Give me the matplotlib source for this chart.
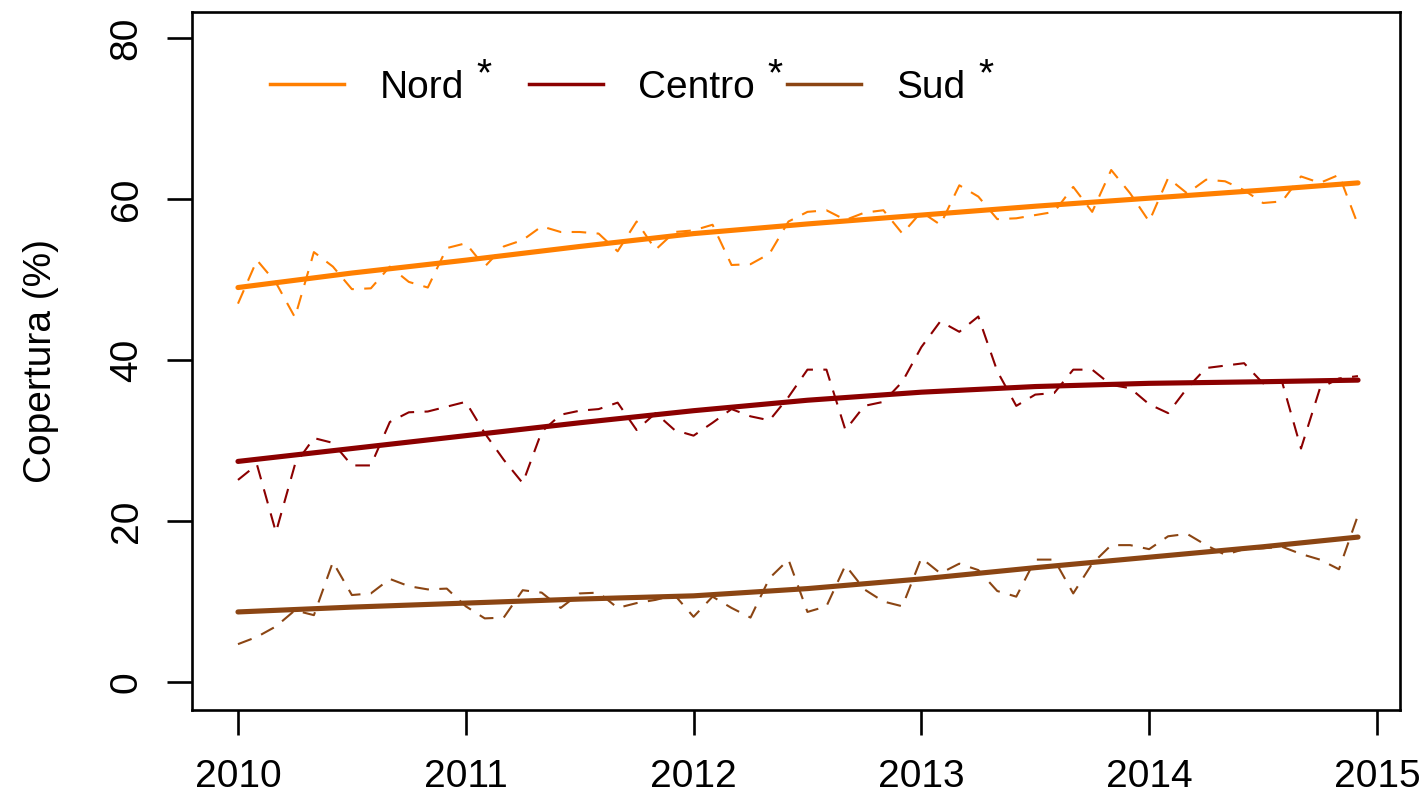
import numpy as np
import matplotlib
matplotlib.use('Agg')
import matplotlib.pyplot as plt
from matplotlib.lines import Line2D
from matplotlib.legend import Legend

plt.rcParams['font.family'] = ['Liberation Sans', 'DejaVu Sans']

# monthly values (Jan 2010 .. Dec 2014)
months = 2010 + np.arange(60) / 12

nord = [47.0, 52.4, 49.6, 45.3, 53.4, 51.6, 48.8, 48.9, 51.6, 49.7,
        49.0, 53.9, 54.5, 51.6, 54.1, 54.9, 56.6, 55.9, 55.9, 55.7,
        53.5, 57.2, 53.7, 55.9, 56.1, 56.8, 51.8, 51.9, 53.2, 57.2,
        58.4, 58.6, 57.4, 58.3, 58.6, 55.7, 58.4, 56.8, 61.7, 60.3,
        57.5, 57.6, 58.0, 58.4, 61.5, 58.4, 63.6, 60.7, 57.2, 62.6,
        60.7, 62.4, 62.2, 61.1, 59.5, 59.7, 62.8, 62.0, 63.0, 56.8]

centro = [25.1, 27.0, 18.6, 27.0, 30.3, 29.7, 26.9, 26.9, 32.3, 33.5,
          33.6, 34.2, 34.8, 30.9, 27.6, 24.7, 31.1, 33.2, 33.7, 33.9,
          34.7, 31.3, 33.4, 31.3, 30.6, 32.2, 33.9, 33.0, 32.5, 35.4,
          38.8, 38.8, 31.3, 34.3, 34.8, 37.3, 41.6, 44.8, 43.5, 45.4,
          38.6, 34.3, 35.7, 35.9, 38.8, 38.8, 36.9, 36.5, 34.5, 33.4,
          36.5, 39.0, 39.3, 39.6, 37.1, 37.3, 29.0, 36.5, 37.7, 38.0]

sud = [4.7, 5.6, 6.9, 8.9, 8.3, 14.9, 10.8, 11.0, 12.8, 11.9,
       11.5, 11.6, 9.4, 7.9, 8.0, 11.4, 11.1, 9.2, 11.0, 11.1,
       9.2, 9.8, 10.2, 10.8, 8.1, 10.6, 9.2, 8.0, 12.9, 15.2,
       8.7, 9.4, 14.5, 11.5, 10.0, 9.4, 15.4, 13.5, 14.7, 13.9,
       11.3, 10.6, 15.2, 15.2, 11.0, 14.7, 17.0, 17.0, 16.5, 18.1,
       18.4, 17.0, 15.8, 16.5, 16.6, 16.8, 15.9, 15.2, 14.0, 20.7]

# smooth trend read at half-year steps
trend_x = [2010, 2010.5, 2011, 2011.5, 2012, 2012.5, 2013, 2013.5, 2014, 2014.5, 2014.917]
nord_trend = [49.0, 50.8, 52.4, 54.1, 55.7, 56.9, 58.0, 59.1, 60.1, 61.1, 62.0]
centro_trend = [27.4, 29.0, 30.6, 32.2, 33.7, 35.0, 36.0, 36.7, 37.1, 37.3, 37.5]
sud_trend = [8.7, 9.3, 9.8, 10.3, 10.7, 11.6, 12.8, 14.2, 15.5, 16.8, 18.0]

names = ['Nord', 'Centro', 'Sud']
colors = ['#FF7F00', '#8B0000', '#8B4513']
series = [nord, centro, sud]
trends = [nord_trend, centro_trend, sud_trend]

fig = plt.figure(figsize=(14.23, 7.99), dpi=100)
ax = fig.add_axes([0.1349, 0.1114, 0.8489, 0.8736])

for vals, tr, c in zip(series, trends, colors):
    ax.plot(months, vals, color=c, lw=1.5, linestyle=(0, (7, 5)))
    ax.plot(trend_x, tr, color=c, lw=3.7, solid_capstyle='round')

ax.set_xlim(2009.798, 2015.101)
ax.set_ylim(-3.48, 83.23)
ax.set_xticks([2010, 2011, 2012, 2013, 2014, 2015])
ax.set_yticks([0, 20, 40, 60, 80])
ax.tick_params(direction='out', length=18, width=1.9, labelsize=28, pad=17)
ax.tick_params(axis='y', pad=16)
plt.setp(ax.get_yticklabels(), rotation=90, va='center', ha='right')
for s in ax.spines.values():
    s.set_linewidth(1.9)
ax.set_ylabel('Copertura (%)', fontsize=28, labelpad=36)

# legend: three equal-width entries across the top, asterisk raised after each name
legend_x = [0.065, 0.279, 0.493]
for name, c, lx in zip(names, colors, legend_x):
    h = Line2D([], [], color=c, lw=2.5)
    leg = Legend(ax, [h], [name], loc='center left',
                 bbox_to_anchor=(lx, 0.891), frameon=False, fontsize=28,
                 handlelength=1.9, handletextpad=0.9, borderpad=0,
                 borderaxespad=0)
    ax.add_artist(leg)
    ax.annotate('*', xy=(1, 1), xycoords=leg.get_texts()[0],
                xytext=(9, 9), textcoords='offset points',
                fontsize=28, ha='left', va='top', zorder=10)

fig.savefig('out.png', dpi=100)
